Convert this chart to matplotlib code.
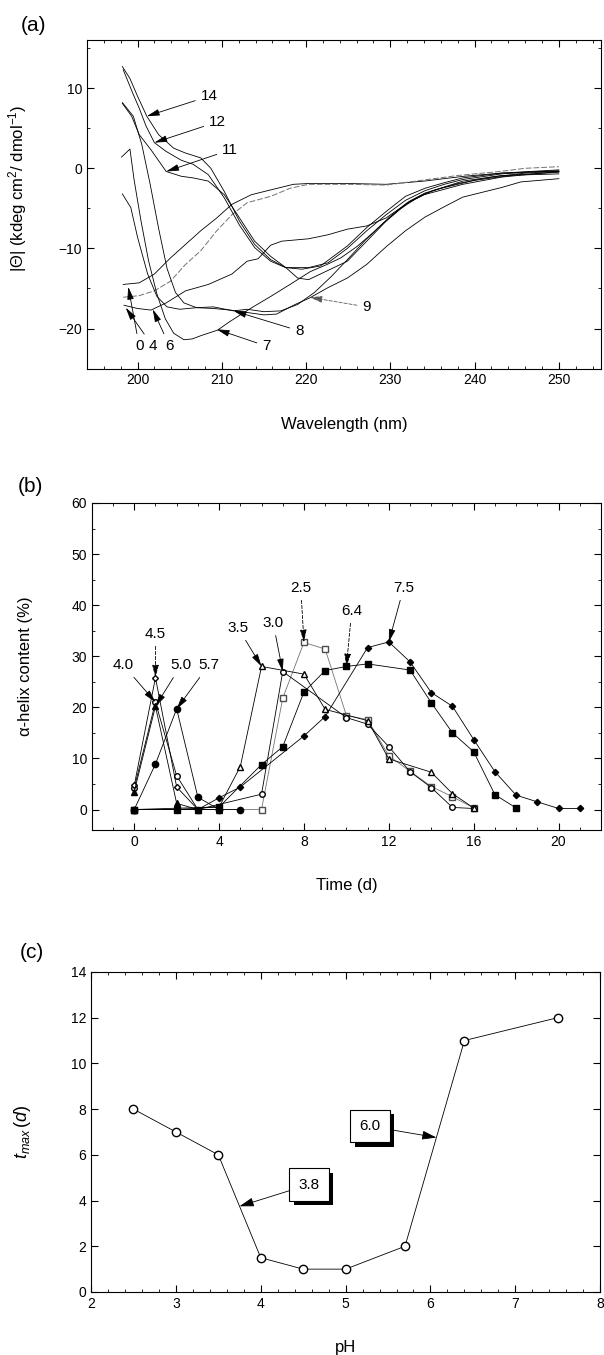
import numpy as np
import matplotlib.pyplot as plt
import matplotlib.patheffects as pe
from matplotlib.ticker import MultipleLocator

plt.rcParams['font.family'] = ['Liberation Sans', 'DejaVu Sans']
plt.rcParams['mathtext.fontset'] = 'custom'
plt.rcParams['mathtext.rm'] = 'Liberation Sans'
plt.rcParams['mathtext.it'] = 'Liberation Sans:italic'

# ---- (a) CD spectra, one per incubation day ----
wl_0 = [198.3, 200.2, 202.0, 203.9, 205.7, 207.5, 209.4, 211.2, 213.5, 215.8, 218.5, 220.3, 225.0, 229.5, 234.0, 238.7, 243.2, 250.0]
cd_0 = [-14.5, -14.3, -13.2, -11.2, -9.5, -7.8, -6.2, -4.5, -3.3, -2.7, -2.0, -1.9, -1.9, -2.0, -1.6, -1.0, -0.6, -0.2]
wl_4 = [198.3, 200.2, 202.0, 203.9, 205.7, 207.5, 209.4, 211.2, 213.0, 215.8, 218.1, 220.3, 225.0, 229.5, 233.0, 238.0, 243.0, 246.0, 250.0]
cd_4 = [-16.1, -15.9, -15.3, -14.1, -12.0, -10.3, -7.8, -5.8, -4.3, -3.5, -2.5, -2.0, -2.0, -2.1, -1.6, -0.9, -0.4, 0.0, 0.2]
wl_6 = [198.4, 200.0, 201.6, 203.4, 205.7, 208.4, 211.2, 213.0, 214.3, 215.8, 217.1, 220.3, 222.6, 224.9, 227.2, 229.5, 231.8, 234.0, 238.6, 243.2, 250.0]
cd_6 = [-17.1, -17.5, -17.7, -16.8, -15.3, -14.5, -13.2, -11.6, -11.3, -9.6, -9.1, -8.8, -8.3, -7.6, -7.2, -6.2, -4.5, -3.3, -2.0, -1.1, -0.4]
wl_7 = [198.1, 199.1, 199.6, 200.4, 201.3, 202.3, 203.3, 204.3, 205.5, 206.5, 207.5, 209.5, 211.0, 213.4, 215.8, 218.1, 220.5, 222.5, 224.1, 226.0, 228.0, 230.0, 232.0, 234.0, 236.0, 240.0, 245.0, 250.0]
cd_7 = [1.4, 2.4, -1.5, -6.5, -11.5, -15.7, -18.8, -20.6, -21.4, -21.3, -20.9, -20.2, -19.1, -17.5, -16.0, -14.5, -12.9, -12.0, -11.2, -9.8, -8.0, -6.0, -4.3, -3.2, -2.5, -1.5, -0.8, -0.5]
wl_8 = [198.2, 199.5, 200.5, 201.5, 202.5, 203.5, 204.5, 205.5, 207.0, 209.0, 211.4, 213.0, 215.0, 217.0, 219.0, 221.0, 223.0, 225.0, 227.0, 229.0, 231.0, 233.0, 235.0, 238.0, 242.0, 246.0, 250.0]
cd_8 = [8.2, 6.5, 3.0, -2.0, -7.5, -12.5, -15.5, -16.8, -17.4, -17.3, -17.8, -17.6, -17.9, -17.8, -17.0, -15.5, -13.5, -11.3, -9.0, -7.0, -5.2, -3.8, -2.8, -1.9, -1.1, -0.6, -0.4]
wl_9 = [198.2, 199.2, 200.0, 201.2, 202.3, 203.5, 205.0, 207.0, 209.0, 211.0, 213.0, 215.0, 216.5, 218.7, 220.4, 222.6, 224.9, 227.2, 229.5, 231.8, 234.1, 236.4, 238.6, 240.9, 243.2, 245.5, 250.0]
cd_9 = [-3.2, -4.9, -8.6, -13.2, -16.0, -17.3, -17.6, -17.4, -17.5, -17.7, -18.0, -18.3, -18.2, -17.0, -16.2, -14.9, -13.7, -12.0, -9.8, -7.8, -6.1, -4.8, -3.6, -3.0, -2.4, -1.7, -1.3]
wl_11 = [198.2, 199.3, 200.2, 201.6, 203.4, 205.2, 206.6, 208.4, 210.3, 212.1, 213.9, 215.8, 217.6, 219.0, 220.3, 221.7, 224.9, 227.2, 229.5, 232.3, 234.1, 238.6, 243.2, 250.0]
cd_11 = [8.1, 6.5, 4.2, 2.3, -0.4, -1.0, -1.2, -1.6, -3.3, -6.2, -9.1, -11.0, -12.4, -13.7, -13.9, -13.2, -11.6, -9.1, -6.6, -4.1, -3.1, -1.6, -0.9, -0.7]
wl_12 = [198.3, 199.5, 200.2, 201.0, 202.0, 203.4, 205.2, 206.6, 208.4, 210.3, 212.1, 213.9, 215.8, 217.6, 220.3, 222.6, 224.9, 227.2, 229.5, 231.8, 234.1, 236.4, 238.6, 243.2, 247.8, 250.0]
cd_12 = [12.3, 9.2, 7.5, 5.3, 3.2, 2.1, 1.0, 0.5, -0.8, -3.7, -7.1, -9.9, -11.6, -12.4, -12.4, -11.8, -10.0, -7.8, -5.8, -4.0, -2.8, -2.0, -1.4, -0.7, -0.4, -0.3]
wl_14 = [198.2, 199.1, 200.0, 201.1, 202.5, 204.3, 205.7, 207.5, 208.7, 210.3, 212.1, 213.9, 215.8, 217.6, 219.5, 221.7, 224.9, 227.2, 229.5, 231.8, 234.1, 236.4, 238.6, 243.2, 247.8, 250.0]
cd_14 = [12.7, 11.2, 9.0, 6.5, 4.2, 2.5, 1.9, 1.3, 0.0, -2.9, -6.6, -9.5, -11.4, -12.4, -12.6, -12.2, -9.7, -7.4, -5.4, -3.5, -2.5, -1.8, -1.2, -0.6, -0.4, -0.4]

# ---- (b) helix content vs time at each pH ----
t_25 = [0, 3, 6, 7, 8, 9, 10, 11, 12, 13, 14, 15, 16]
h_25 = [0, 0, 0, 21.8, 32.7, 31.4, 18.4, 17.6, 10.5, 7.5, 4.5, 2.5, 0.3]
t_30 = [0, 3, 6, 7, 10, 11, 12, 13, 14, 15, 16]
h_30 = [0, 0, 3.0, 27.0, 18.0, 16.7, 12.3, 7.4, 4.3, 0.4, 0.2]
t_35 = [0, 4, 5, 6, 8, 9, 11, 12, 14, 15, 16]
h_35 = [0, 0.5, 8.4, 28.0, 26.5, 19.6, 17.4, 9.9, 7.3, 3.1, 0.3]
t_40 = [0, 1, 2, 3, 4]
h_40 = [4.2, 21.0, 6.6, 0, 0]
t_45 = [0, 1, 2, 3, 4]
h_45 = [4.7, 25.8, 4.4, 0, 0]
t_50 = [0, 1, 2, 3, 4]
h_50 = [3.5, 20.2, 1.2, 0, 0]
t_57 = [0, 1, 2, 3, 4, 5]
h_57 = [0, 8.9, 19.7, 2.4, 0, 0]
t_64 = [0, 2, 4, 6, 7, 8, 9, 10, 11, 13, 14, 15, 16, 17, 18]
h_64 = [0, 0, 0.5, 8.8, 12.3, 23.0, 27.2, 28.0, 28.5, 27.3, 20.9, 15.0, 11.3, 2.9, 0.3]
t_75 = [0, 3, 4, 5, 8, 9, 11, 12, 13, 14, 15, 16, 17, 18, 19, 20, 21]
h_75 = [0, 0, 2.3, 4.4, 14.4, 18.2, 31.7, 32.8, 28.9, 22.9, 20.2, 13.7, 7.4, 2.8, 1.5, 0.2, 0.2]

# ---- (c) time of maximum helix vs pH ----
ph = [2.5, 3.0, 3.5, 4.0, 4.5, 5.0, 5.7, 6.4, 7.5]
tmax = [8, 7, 6, 1.5, 1, 1, 2, 11, 12]


def style(ax):
    ax.tick_params(which='both', direction='in', top=True, right=True, labelsize=10)
    ax.tick_params(which='major', length=5, width=0.8)
    ax.tick_params(which='minor', length=2.5, width=0.6)
    for s in ax.spines.values():
        s.set_linewidth(0.8)


def arrow(ax, txt, xy, xytext, dashed=False, color='black'):
    ax.annotate(txt, xy=xy, xytext=xytext, fontsize=11, ha='center', va='center',
                arrowprops=dict(arrowstyle='-|>,head_length=0.7,head_width=0.18',
                                lw=0.6, color=color, shrinkA=2, shrinkB=0,
                                linestyle=(0, (4, 2)) if dashed else '-'))


fig = plt.figure(figsize=(6.04, 13.55), dpi=100)

# (a)
ax = fig.add_axes([0.144, 0.728, 0.851, 0.2424])
spectra = [(wl_0, cd_0), (wl_4, cd_4), (wl_6, cd_6), (wl_7, cd_7), (wl_8, cd_8),
           (wl_9, cd_9), (wl_11, cd_11), (wl_12, cd_12), (wl_14, cd_14)]
for i, (w, c) in enumerate(spectra):
    if i == 1:
        ax.plot(w, c, color='0.45', lw=0.7, dashes=(6, 2))
    else:
        ax.plot(w, c, color='black', lw=0.6)
ax.set_xlim(194, 255)
ax.set_ylim(-25, 16)
ax.xaxis.set_major_locator(MultipleLocator(10))
ax.xaxis.set_minor_locator(MultipleLocator(2))
ax.yaxis.set_major_locator(MultipleLocator(10))
ax.yaxis.set_minor_locator(MultipleLocator(5))
style(ax)
ax.set_xlabel('Wavelength (nm)', fontsize=12)
ax.set_ylabel('|\u0398| (kdeg cm$^2$/ dmol$^{-1}$)', fontsize=12)
ax.xaxis.set_label_coords(0.5, -0.148)
ax.yaxis.set_label_coords(-0.113, 0.55)
arrow(ax, '14', (201.1, 6.5), (208.5, 9.0))
arrow(ax, '12', (202.0, 3.2), (209.5, 5.8))
arrow(ax, '11', (203.4, -0.4), (211.0, 2.3))
arrow(ax, '9', (220.4, -16.1), (227.2, -17.3), dashed=True, color='0.35')
arrow(ax, '8', (211.4, -17.8), (219.2, -20.3))
arrow(ax, '7', (209.4, -20.1), (215.3, -22.2))
arrow(ax, '0', (198.9, -14.8), (200.2, -22.2))
arrow(ax, '4', (198.6, -17.4), (201.8, -22.2))
arrow(ax, '6', (201.8, -17.6), (203.8, -22.2))
fig.text(0.055, 0.9815, '(a)', fontsize=15, ha='center', va='center')

# (b)
ax = fig.add_axes([0.152, 0.3875, 0.843, 0.2413])
mk = dict(lw=0.6, color='black', mec='black')
ax.plot(t_25, h_25, marker='s', ms=4.5, mfc='white', lw=0.6, color='0.45', mec='0.3')
ax.plot(t_30, h_30, marker='o', ms=4, mfc='white', **mk)
ax.plot(t_35, h_35, marker='^', ms=4.5, mfc='white', **mk)
ax.plot(t_40, h_40, marker='o', ms=4, mfc='white', **mk)
ax.plot(t_45, h_45, marker='D', ms=3, mfc='white', **mk)
ax.plot(t_50, h_50, marker='^', ms=4.5, mfc='black', **mk)
ax.plot(t_57, h_57, marker='o', ms=4.5, mfc='black', **mk)
ax.plot(t_64, h_64, marker='s', ms=4.5, mfc='black', **mk)
ax.plot(t_75, h_75, marker='D', ms=3.2, mfc='black', **mk)
ax.set_xlim(-2, 22)
ax.set_ylim(-4, 60)
ax.xaxis.set_major_locator(MultipleLocator(4))
ax.xaxis.set_minor_locator(MultipleLocator(1))
ax.yaxis.set_major_locator(MultipleLocator(10))
ax.yaxis.set_minor_locator(MultipleLocator(5))
style(ax)
ax.set_xlabel('Time (d)', fontsize=12)
ax.set_ylabel('\u03b1-helix content (%)', fontsize=12)
ax.xaxis.set_label_coords(0.5, -0.147)
ax.yaxis.set_label_coords(-0.116, 0.5)
arrow(ax, '4.0', (t_40[1], h_40[1]), (-0.5, 28.2))
arrow(ax, '4.5', (t_45[1], h_45[1]), (1.0, 34.4), dashed=True)
arrow(ax, '5.0', (t_50[1], h_50[1]), (2.2, 28.2))
arrow(ax, '5.7', (t_57[2], h_57[2]), (3.5, 28.2))
arrow(ax, '3.5', (t_35[3], h_35[3]), (4.9, 35.5))
arrow(ax, '3.0', (t_30[3], h_30[3]), (6.55, 36.5))
arrow(ax, '2.5', (t_25[4], h_25[4]), (7.85, 43.4), dashed=True)
arrow(ax, '6.4', (t_64[7], h_64[7]), (10.25, 38.9), dashed=True)
arrow(ax, '7.5', (t_75[7], h_75[7]), (12.7, 43.4))
fig.text(0.05, 1 - 487 / 1355, '(b)', fontsize=15, ha='center', va='center')

# (c)
ax = fig.add_axes([0.1507, 0.0465, 0.843, 0.2362])
ax.plot(ph, tmax, marker='o', ms=6, mfc='white', mec='black', color='black', lw=0.6)
ax.set_xlim(2, 8)
ax.set_ylim(0, 14)
ax.xaxis.set_major_locator(MultipleLocator(1))
ax.xaxis.set_minor_locator(MultipleLocator(0.2))
ax.yaxis.set_major_locator(MultipleLocator(2))
style(ax)
ax.set_xlabel('pH', fontsize=12)
ax.set_ylabel('$t_{max}\\,(d)$', fontsize=13)
ax.xaxis.set_label_coords(0.5, -0.15)
ax.yaxis.set_label_coords(-0.114, 0.5)

# boxed labels with a drop shadow, arrows onto the curve
for lab, box_xy, tip_x in [('3.8', (4.57, 4.7), 3.75), ('6.0', (5.29, 7.25), 6.07)]:
    tip = (tip_x, np.interp(tip_x, ph, tmax))
    ann = ax.annotate(lab, xy=tip, xytext=box_xy, fontsize=11, ha='center', va='center', zorder=4,
                      bbox=dict(boxstyle='square,pad=0.6', fc='white', ec='black', lw=0.8),
                      arrowprops=dict(arrowstyle='-|>,head_length=0.8,head_width=0.25',
                                      lw=0.6, color='black', shrinkA=0, shrinkB=0))
    ann.get_bbox_patch().set_path_effects([
        pe.SimplePatchShadow(offset=(3, -3), shadow_rgbFace='black', alpha=1.0),
        pe.Normal()])
fig.text(0.052, 1 - 952 / 1355, '(c)', fontsize=15, ha='center', va='center')

fig.savefig('out.png', dpi=100)
